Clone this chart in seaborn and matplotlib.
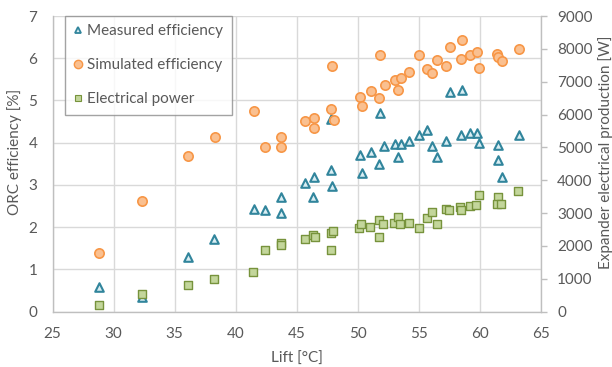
import matplotlib
matplotlib.use("Agg")
import matplotlib.pyplot as plt
import seaborn as sns
import pandas as pd
from matplotlib.lines import Line2D

# Measured ORC efficiency [%] vs lift [°C]
meas_lift = [28.8, 32.3, 36.1, 38.2, 41.5, 42.4, 43.75, 43.75, 45.7, 46.46, 46.38,
             47.83, 47.83, 47.9, 50.2, 50.34, 51.1, 51.76, 51.84, 52.2, 53.05, 53.3,
             53.54, 54.22, 55.04, 55.7, 56.13, 56.5, 57.25, 57.58, 58.5, 58.6, 59.25,
             59.77, 59.99, 61.54, 61.5, 61.87, 63.26]
meas_eff = [0.59, 0.34, 1.29, 1.73, 2.43, 2.41, 2.72, 2.34, 3.05, 3.20, 2.72,
            4.55, 3.35, 2.98, 3.70, 3.28, 3.77, 3.50, 4.70, 3.92, 3.97, 3.66,
            3.97, 4.03, 4.19, 4.29, 3.92, 3.66, 4.05, 5.20, 4.18, 5.24, 4.24,
            4.24, 4.00, 3.94, 3.59, 3.20, 4.19]

# Simulated ORC efficiency [%] vs lift [°C]
sim_lift = [28.8, 32.3, 36.13, 38.3, 41.54, 42.42, 43.75, 43.75, 45.72, 46.46, 46.41,
            47.85, 48.05, 47.9, 50.2, 50.37, 51.1, 51.76, 51.84, 52.23, 53.05, 53.32,
            53.54, 54.22, 55.04, 55.7, 56.13, 56.5, 57.25, 57.58, 58.5, 58.6, 59.25,
            59.77, 59.98, 61.46, 61.54, 61.87, 63.26]
sim_eff = [1.38, 2.63, 3.68, 4.14, 4.75, 3.91, 4.14, 3.91, 4.51, 4.59, 4.34,
           4.79, 4.54, 5.82, 5.09, 4.86, 5.22, 5.06, 6.08, 5.36, 5.49, 5.26,
           5.54, 5.67, 6.08, 5.75, 5.64, 5.95, 5.82, 6.27, 5.98, 6.43, 6.08,
           6.14, 5.78, 6.10, 6.02, 5.94, 6.23]

# Expander electrical production [W] vs lift [°C]
pow_lift = [28.8, 32.3, 36.08, 38.24, 41.46, 42.39, 43.75, 43.75, 45.72, 46.38, 46.49,
            47.85, 47.85, 47.96, 50.15, 50.31, 51.05, 51.76, 51.79, 52.12, 53.02, 53.3,
            53.51, 54.2, 55.04, 55.67, 56.1, 56.5, 57.25, 57.5, 58.43, 58.51, 59.22,
            59.74, 59.98, 61.49, 61.4, 61.79, 63.18]
pow_w = [213, 539, 813, 986, 1208, 1878, 2100, 2030, 2212, 2325, 2283,
         2386, 1887, 2465, 2538, 2669, 2578, 2791, 2283, 2660, 2690, 2873,
         2669, 2690, 2538, 2861, 3043, 2669, 3116, 3095, 3177, 3085, 3226,
         3247, 3542, 3481, 3287, 3287, 3682]

x_ticks = [25, 30, 35, 40, 45, 50, 55, 60, 65]
left_ticks = [0, 1, 2, 3, 4, 5, 6, 7]
right_ticks = [0, 1000, 2000, 3000, 4000, 5000, 6000, 7000, 8000, 9000]

sns.set_style("white")
plt.rcParams["font.family"] = ["Lato", "DejaVu Sans"]

TXT = "#595959"
GRID = "#D9D9D9"
SPINE = "#BFBFBF"
FS = 11

meas_style = dict(marker="^", color="#DAEEF3", edgecolor="#31859C", linewidth=1.5, s=38)
sim_style = dict(marker="o", color="#FAC090", edgecolor="#F79646", linewidth=1.2, s=45)
pow_style = dict(marker="s", color="#C3D69B", edgecolor="#77933C", linewidth=1.0, s=40)

fig = plt.figure(figsize=(6.12, 3.67), dpi=100)
ax = fig.add_axes([0.0858, 0.1507, 0.7974, 0.8057])
ax2 = ax.twinx()

df_meas = pd.DataFrame({"lift": meas_lift, "eff": meas_eff})
df_sim = pd.DataFrame({"lift": sim_lift, "eff": sim_eff})
df_pow = pd.DataFrame({"lift": pow_lift, "power": pow_w})

sns.scatterplot(data=df_meas, x="lift", y="eff", ax=ax, zorder=3, **meas_style)
sns.scatterplot(data=df_sim, x="lift", y="eff", ax=ax, zorder=3, **sim_style)
sns.scatterplot(data=df_pow, x="lift", y="power", ax=ax2, zorder=3, **pow_style)

ax.set_xlim(25, 65)
ax.set_ylim(0, 7)
ax2.set_ylim(0, 9000)
ax.set_xticks(x_ticks)
ax.set_yticks(left_ticks)
ax2.set_yticks(right_ticks)

ax.grid(True, color=GRID, linewidth=1.0)
ax.set_axisbelow(True)

for a in (ax, ax2):
    a.spines["top"].set_visible(False)
    for s in ("left", "bottom", "right"):
        a.spines[s].set_color(SPINE)
        a.spines[s].set_linewidth(1.0)
ax.spines["right"].set_visible(False)
ax2.spines["left"].set_visible(False)
ax2.spines["bottom"].set_visible(False)

ax.tick_params(axis="x", colors=TXT, labelsize=FS, length=0, pad=11)
ax.tick_params(axis="y", colors=TXT, labelsize=FS, length=0, pad=11)
ax2.tick_params(axis="y", colors=SPINE, labelcolor=TXT, labelsize=FS, length=4, width=1, pad=8)

ax.set_xlabel("Lift [°C]", fontsize=FS, color=TXT)
ax.xaxis.set_label_coords(0.5, -0.136)
ax.set_ylabel("ORC efficiency [%]", fontsize=FS, color=TXT)
ax.yaxis.set_label_coords(-0.063, 0.54)
ax2.set_ylabel("Expander electrical production [W]", fontsize=FS, color=TXT)
ax2.yaxis.set_label_coords(1.118, 0.54)

handles = [
    Line2D([], [], linestyle="none", marker="^", markersize=5, markerfacecolor="#DAEEF3",
           markeredgecolor="#31859C", markeredgewidth=1.3),
    Line2D([], [], linestyle="none", marker="o", markersize=6, markerfacecolor="#FAC090",
           markeredgecolor="#F79646", markeredgewidth=1.0),
    Line2D([], [], linestyle="none", marker="s", markersize=5, markerfacecolor="#C3D69B",
           markeredgecolor="#77933C", markeredgewidth=0.8),
]
labels = ["Measured efficiency", "Simulated efficiency", "Electrical power"]
leg = ax2.legend(handles, labels, loc="upper left", bbox_to_anchor=(0.026, 1.0),
                 borderaxespad=0, frameon=True, fancybox=False, fontsize=FS,
                 labelspacing=1.3, handlelength=0.6, handletextpad=0.3,
                 borderpad=0.55, labelcolor=TXT)
leg.get_frame().set_edgecolor("#8C8C8C")
leg.get_frame().set_linewidth(1.0)
leg.set_zorder(10)

fig.savefig("out.png", dpi=100)
